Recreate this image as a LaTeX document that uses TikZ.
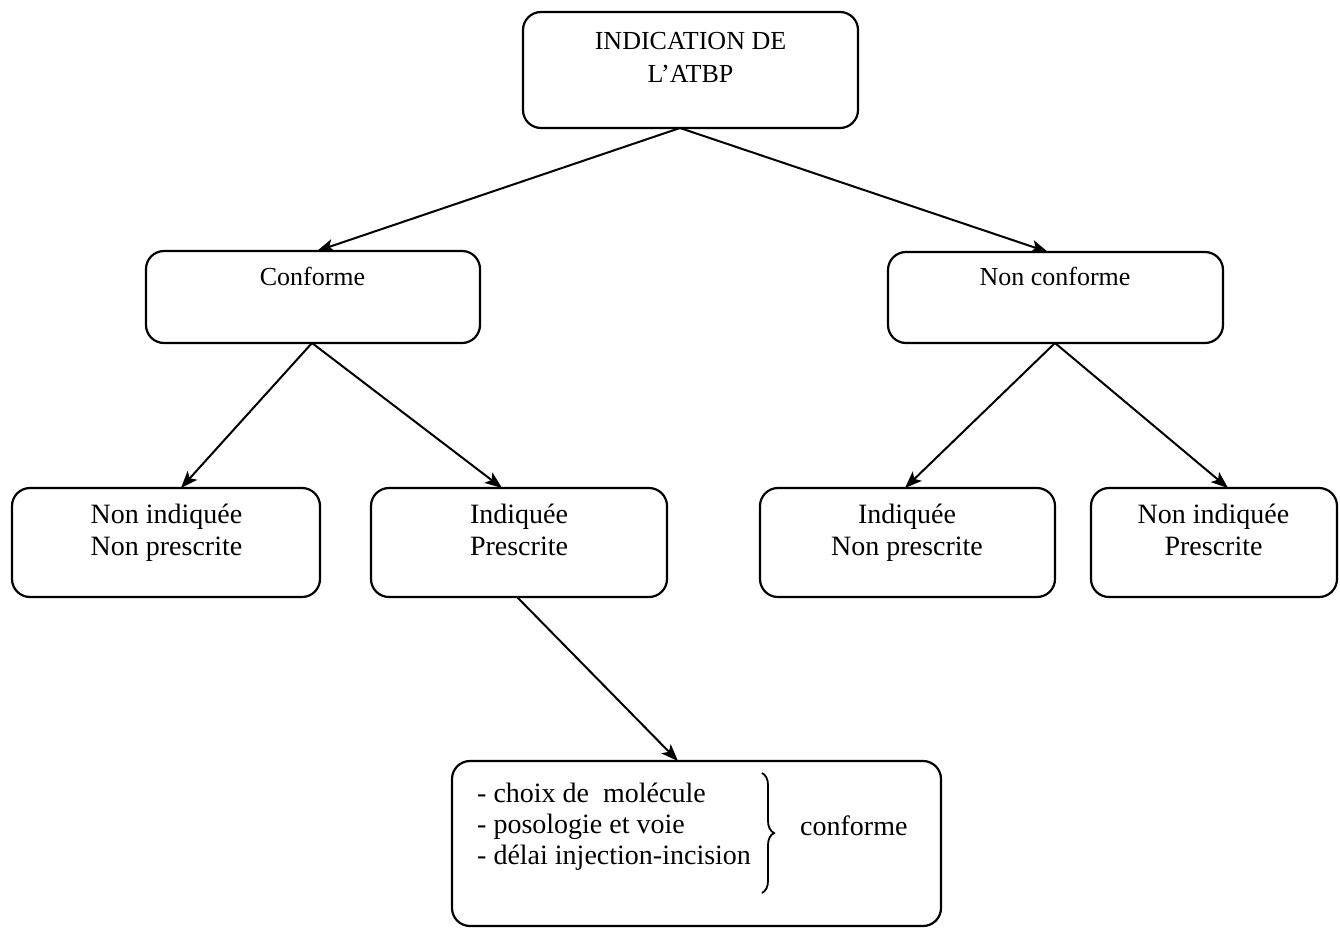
\documentclass[tikz,border=0pt]{standalone}
\usepackage{fontspec}
\setmainfont{Liberation Serif}
\usetikzlibrary{arrows.meta,decorations.pathreplacing}
\tikzset{
  box/.style={draw, line width=2.2pt, rounded corners=18pt, inner sep=0pt, outer sep=0pt},
  arr/.style={line width=2pt, -{Stealth[length=17pt,width=13pt,inset=4pt]}},
  txt/.style={anchor=base, align=center, inner sep=0pt, font=\fontsize{28}{32}\selectfont},
  txtsm/.style={anchor=base, align=center, inner sep=0pt, font=\fontsize{26}{33}\selectfont}
}
\begin{document}
\begin{tikzpicture}[x=1pt,y=-1pt]
\useasboundingbox[fill=white] (0,0) rectangle (1340,929);
% boxes
\node[box, minimum width=335pt, minimum height=116pt] (top) at (690.5,70) {};
\node[box, minimum width=334pt, minimum height=92pt] (conf) at (313,297) {};
\node[box, minimum width=335pt, minimum height=91pt] (nconf) at (1055.5,297.5) {};
\node[box, minimum width=308pt, minimum height=109pt] (nini) at (166,542.5) {};
\node[box, minimum width=296pt, minimum height=109pt] (ip) at (519,542.5) {};
\node[box, minimum width=295pt, minimum height=109pt] (inp) at (907.5,542.5) {};
\node[box, minimum width=246pt, minimum height=109pt] (nip) at (1214,542.5) {};
\node[box, minimum width=489pt, minimum height=165pt] (bot) at (696.5,843.5) {};
% texts (base anchor = baseline of last line)
\node[txtsm] (toptxt) at (690.5,82) {INDICATION DE\\L’ATBP};
\node[txtsm] (conftxt) at (312.5,285) {Conforme};
\node[txtsm] (nconftxt) at (1055,285) {Non conforme};
\node[txt] (ninitxt) at (166.5,555) {Non indiquée\\Non prescrite};
\node[txt] (iptxt) at (519,555) {Indiquée\\Prescrite};
\node[txt] (inptxt) at (907,555) {Indiquée\\Non prescrite};
\node[txt] (niptxt) at (1213.5,555) {Non indiquée\\Prescrite};
\node[txt, anchor=base west, align=left, font=\fontsize{28}{31}\selectfont] (bottxt) at (477,864)
  {- choix de \ molécule\\- posologie et voie\\- délai injection-incision};
\coordinate (bra) at (762,773);
\coordinate (brb) at (762,893);
\draw[line width=1.8pt, decorate, decoration={brace, amplitude=12pt}] (bra) -- (brb);
\node[txt, anchor=base west] (conftxt2) at (800,835) {conforme};
% connectors
\draw[arr] ([xshift=-10.5pt]top.south) -- ([xshift=4pt]conf.north);
\draw[arr] ([xshift=-10.5pt]top.south) -- ([xshift=-7.5pt]nconf.north);
\draw[arr] ([xshift=-1pt]conf.south) -- ([xshift=15pt]nini.north);
\draw[arr] ([xshift=-1pt]conf.south) -- ([xshift=-17pt]ip.north);
\draw[arr] ([xshift=-0.5pt]nconf.south) -- ([xshift=-2.5pt]inp.north);
\draw[arr] ([xshift=-0.5pt]nconf.south) -- ([xshift=14pt]nip.north);
\draw[arr] ([xshift=-2pt]ip.south) -- ([xshift=-18.5pt]bot.north);
\end{tikzpicture}
\end{document}
